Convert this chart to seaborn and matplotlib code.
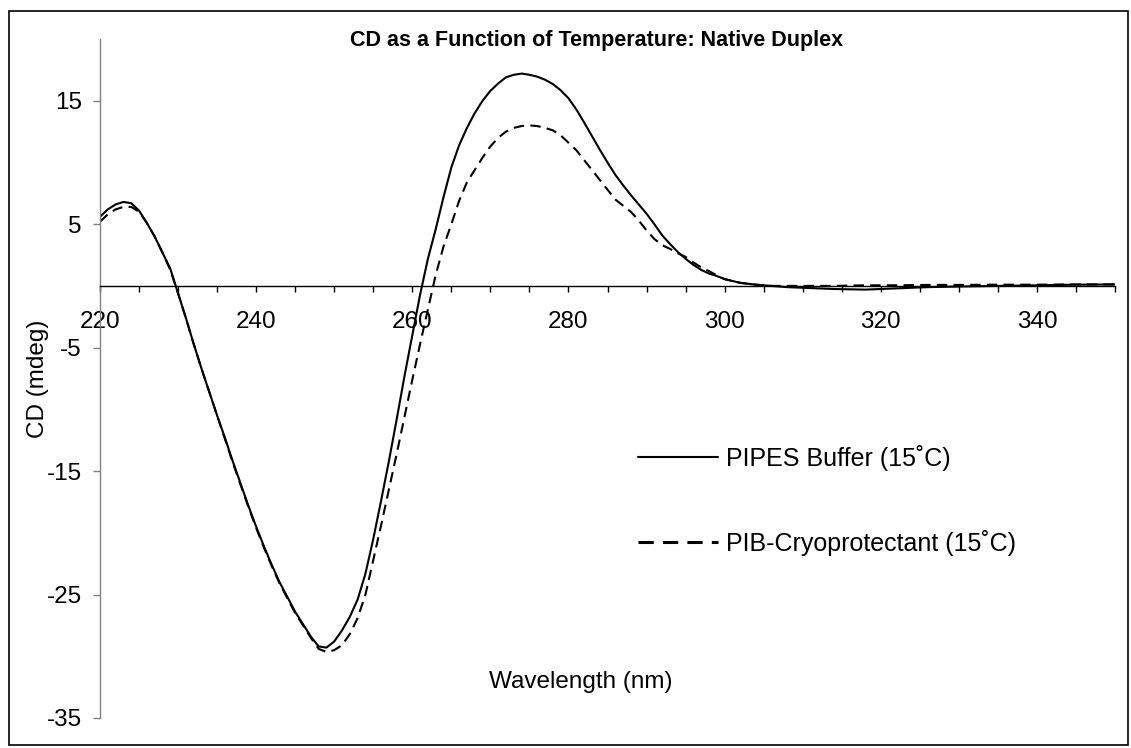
import pandas as pd
import matplotlib.pyplot as plt
import matplotlib.patches as patches
from matplotlib.ticker import MultipleLocator
import seaborn as sns

# Wavelength grid (nm) and CD readings (mdeg)
wavelength = list(range(220, 301)) + [302, 304, 306, 308, 310, 314, 318, 322,
                                      326, 330, 335, 340, 345, 350]

pipes_buffer = [
    5.6, 6.2, 6.6, 6.8, 6.7, 6.1, 5.1, 4.0, 2.7, 1.4,            # 220-229
    -0.6, -2.6, -4.7, -6.7, -8.6, -10.5, -12.3, -14.2, -16.0, -17.8,  # 230-239
    -19.5, -21.1, -22.6, -24.0, -25.2, -26.4, -27.4, -28.4, -29.2, -29.3,  # 240-249
    -28.8, -27.9, -26.8, -25.4, -23.3, -20.5, -17.4, -14.2, -10.8, -7.3,  # 250-259
    -4.0, -0.7, 2.2, 4.6, 7.2, 9.6, 11.4, 12.8, 14.0, 15.0,       # 260-269
    15.8, 16.4, 16.9, 17.1, 17.2, 17.1, 16.95, 16.7, 16.35, 15.85,  # 270-279
    15.2, 14.3, 13.25, 12.15, 11.05, 10.0, 9.0, 8.15, 7.35, 6.6,  # 280-289
    5.85, 5.0, 4.1, 3.4, 2.75, 2.2, 1.7, 1.3, 1.0, 0.8,           # 290-299
    0.55,                                                         # 300
    0.25, 0.1, 0.0, -0.1, -0.15, -0.25, -0.3, -0.2, -0.1, -0.05, 0.0, 0.05, 0.1, 0.12,
]

pib_cryo = [
    5.2, 5.8, 6.2, 6.4, 6.4, 6.0, 5.1, 4.0, 2.7, 1.3,
    -0.6, -2.6, -4.7, -6.7, -8.6, -10.5, -12.4, -14.3, -16.1, -17.9,
    -19.6, -21.2, -22.7, -24.1, -25.3, -26.5, -27.5, -28.5, -29.4, -29.65,
    -29.5, -29.1, -28.2, -26.9, -25.0, -22.2, -19.4, -16.5, -13.6, -10.6,
    -7.6, -4.7, -1.9, 0.9, 3.2, 5.0, 6.9, 8.4, 9.4, 10.4,
    11.3, 12.0, 12.5, 12.8, 12.95, 13.0, 12.95, 12.8, 12.6, 12.2,
    11.6, 11.0, 10.2, 9.4, 8.6, 7.8, 7.0, 6.5, 6.0, 5.3,
    4.5, 3.8, 3.3, 3.0, 2.65, 2.35, 1.9, 1.5, 1.2, 0.85,
    0.55,
    0.25, 0.1, 0.0, 0.0, 0.0, 0.0, 0.05, 0.05, 0.08, 0.08, 0.1, 0.1, 0.12, 0.12,
]

series_names = ["PIPES Buffer (15˚C)", "PIB-Cryoprotectant (15˚C)"]
y_ticks = [-35, -25, -15, -5, 5, 15]

df = pd.DataFrame({
    'Wavelength': wavelength * 2,
    'CD': pipes_buffer + pib_cryo,
    'Sample': [series_names[0]] * len(wavelength) + [series_names[1]] * len(wavelength),
})

sns.set_style('white')
plt.rcParams['font.family'] = ['Liberation Sans', 'DejaVu Sans']
plt.rcParams['axes.unicode_minus'] = False
plt.rcParams['text.color'] = 'black'
plt.rcParams['axes.labelcolor'] = 'black'

fig = plt.figure(figsize=(11.31, 7.48), dpi=100)
ax = fig.add_axes([100 / 1131, 30 / 748, 1015 / 1131, 679 / 748])

sns.lineplot(data=df, x='Wavelength', y='CD', style='Sample',
             dashes={series_names[0]: '', series_names[1]: (5, 3)},
             color='black', linewidth=1.5, estimator=None, sort=False, ax=ax)

ax.set_xlim(220, 350)
ax.set_ylim(-35, 20)
ax.set_yticks(y_ticks)
ax.xaxis.set_major_locator(MultipleLocator(20))
ax.xaxis.set_minor_locator(MultipleLocator(5))

ax.spines['top'].set_visible(False)
ax.spines['right'].set_visible(False)
ax.spines['bottom'].set_position(('data', 0))
ax.spines['bottom'].set_color('black')
ax.spines['bottom'].set_linewidth(1.0)
ax.spines['left'].set_color('#808080')
ax.spines['left'].set_linewidth(1.0)

ax.tick_params(axis='x', which='both', direction='out', length=4, width=1,
               color='black', labelcolor='black', labelsize=17.5, pad=14, bottom=True)
ax.tick_params(axis='y', which='major', direction='out', length=5, width=1,
               color='#808080', labelcolor='black', labelsize=17.5, pad=8, left=True)

ax.set_xlabel('Wavelength (nm)', fontsize=17.5)
ax.xaxis.set_label_coords(0.474, 0.069)
ax.set_ylabel('CD (mdeg)', fontsize=17.5)
ax.yaxis.set_label_coords(-0.05, 0.5)

ax.set_title('CD as a Function of Temperature: Native Duplex', fontsize=15.5,
             fontweight='bold', x=0.489, y=0.9985, va='center', pad=0)

handles, labels = ax.get_legend_handles_labels()
leg = ax.legend(handles, labels, loc='upper left',
                bbox_to_anchor=(638 / 1131, 1 - 445 / 748),
                bbox_transform=fig.transFigure, frameon=False,
                fontsize=18, handlelength=3.2, handletextpad=0.3,
                labelspacing=2.35, borderpad=0, borderaxespad=0)
for line in leg.get_lines():
    line.set_color('black')
leg.get_lines()[0].set_linewidth(1.5)
leg.get_lines()[1].set_linewidth(2.2)

# Border around the chart area
fig.patches.append(patches.Rectangle((9 / 1131, 3 / 748), 1119 / 1131, 734 / 748,
                                     transform=fig.transFigure, fill=False,
                                     edgecolor='black', linewidth=1.2))

fig.savefig('out.png', dpi=100)
